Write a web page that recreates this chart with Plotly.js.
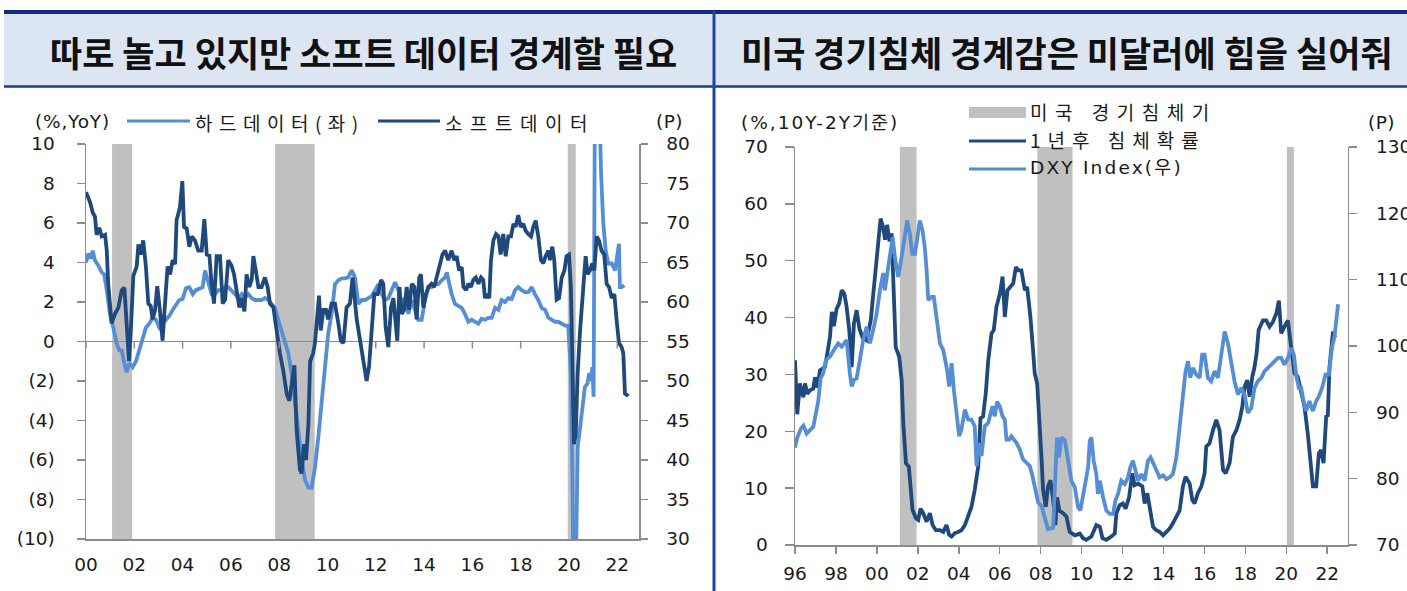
<!DOCTYPE html>
<html>
<head>
<meta charset="utf-8">
<script src="https://cdn.plot.ly/plotly-3.0.1.min.js"></script>
<style>
html,body{margin:0;padding:0;background:#ffffff;}
#chart{width:1407px;height:591px;}
</style>
</head>
<body>
<div id="chart"></div>
<script>
// ---------------- DATA ----------------
// Left chart: hard data (% YoY, left axis) and soft data (P, right axis)
const hardX = [
2000.00,2000.10,2000.19,2000.28,2000.37,2000.51,2000.65,2000.75,2000.86,2000.99,
2001.13,2001.27,2001.38,2001.48,2001.57,2001.68,2001.79,2001.93,
2002.07,2002.21,2002.35,2002.48,2002.62,2002.76,2002.90,
2003.04,2003.17,2003.31,2003.45,2003.59,2003.73,2003.86,
2004.00,2004.14,2004.28,2004.42,2004.55,2004.69,2004.83,2004.93,
2005.07,2005.20,2005.34,2005.48,2005.62,2005.76,2005.89,
2006.03,2006.17,2006.31,2006.45,2006.58,2006.72,2006.86,
2007.00,2007.14,2007.27,2007.41,2007.55,2007.69,2007.83,2007.96,
2008.10,2008.24,2008.38,2008.52,2008.65,2008.79,2008.93,
2009.07,2009.21,2009.34,2009.48,2009.62,2009.76,2009.90,
2010.03,2010.17,2010.31,2010.45,2010.59,2010.72,2010.86,
2011.00,2011.14,
2011.28,2011.42,2011.55,2011.69,2011.83,2011.97,
2012.11,2012.24,2012.38,2012.52,2012.66,2012.80,2012.93,
2013.07,2013.21,2013.35,2013.49,2013.62,2013.76,2013.90,
2014.04,2014.18,2014.31,2014.45,2014.59,2014.73,2014.87,2014.94,
2015.00,2015.14,2015.28,2015.42,2015.56,2015.69,2015.83,2015.97,
2016.11,2016.25,2016.38,2016.52,2016.66,2016.80,2016.94,
2017.08,2017.21,2017.35,2017.49,2017.63,2017.77,2017.90,
2018.04,2018.18,2018.32,2018.46,2018.59,2018.73,2018.87,
2019.01,2019.15,2019.28,2019.42,2019.56,2019.70,2019.84,2019.97,
2020.08,2020.14,2020.19,2020.28,2020.36,2020.46,2020.57,2020.66,2020.76,2020.84,2020.91,2020.97,
2021.02,2021.08,2021.22,2021.33,2021.42,2021.52,2021.63,2021.77,2021.91,
2022.02,2022.07,2022.11,2022.18,2022.29
];
const hardY = [
4.0,4.45,4.2,4.6,4.1,3.85,3.5,3.4,2.6,1.4,
0.7,-0.1,-0.45,-0.45,-1.0,-1.55,-1.1,-1.3,
-1.0,-0.4,0.2,0.7,0.9,1.2,1.1,
0.7,0.9,1.1,1.3,1.6,1.9,2.1,
2.15,2.7,2.75,2.4,2.6,2.7,2.75,3.6,
2.9,2.4,2.4,2.6,2.6,2.75,2.75,
2.6,2.4,2.2,2.4,2.2,2.4,2.2,
2.1,2.1,2.1,2.2,2.1,1.9,1.7,1.1,
0.55,0.05,-0.6,-1.65,-3.0,-4.7,-6.0,
-7.0,-7.4,-7.4,-6.4,-4.85,-3.0,-1.3,
0.4,1.4,2.9,3.1,3.2,3.2,3.25,
3.6,3.25,
1.9,2.1,2.1,2.2,2.3,2.6,
2.9,2.4,2.1,2.2,2.6,3.0,2.6,
1.9,2.2,1.4,2.1,1.6,1.1,1.1,
2.1,2.75,2.75,2.9,2.9,3.1,3.25,3.5,
3.1,2.4,1.9,1.8,1.7,1.4,1.0,1.1,
1.0,0.9,1.15,1.1,1.2,1.2,1.7,
1.6,2.1,2.0,2.2,2.15,2.6,2.75,
2.6,2.5,2.5,2.75,2.4,2.1,1.7,
1.6,1.2,1.1,1.0,1.0,0.9,0.8,0.8,
-1.6,-6.7,-13,-12,-5.35,-4.35,-3.3,-2.3,-2.15,-1.6,-2.0,-1.3,
-2.8,14,14,8.5,6.0,4.6,3.95,3.95,3.6,
4.6,4.95,2.75,2.75,2.85
];
const softX = [
2000.00,2000.17,2000.28,2000.37,2000.44,2000.55,2000.65,2000.79,2000.86,2000.92,
2001.06,2001.20,2001.34,2001.48,2001.59,2001.68,2001.78,2001.85,2001.96,
2002.10,2002.17,2002.26,2002.37,2002.48,2002.58,2002.68,2002.76,2002.86,2002.95,
2003.06,2003.17,2003.31,2003.38,2003.48,2003.59,2003.69,2003.75,2003.89,2003.99,
2004.06,2004.17,2004.28,2004.38,2004.51,2004.65,2004.79,2004.90,
2005.00,2005.11,2005.20,2005.30,2005.41,2005.55,2005.66,2005.76,2005.89,
2006.03,2006.13,2006.24,2006.35,2006.45,2006.56,2006.65,2006.76,2006.86,2006.93,
2007.04,2007.14,2007.27,2007.41,2007.52,2007.62,2007.76,2007.90,
2008.03,2008.17,2008.31,2008.42,2008.52,2008.63,2008.72,2008.86,2008.93,
2009.03,2009.11,2009.21,2009.28,2009.41,2009.48,2009.58,2009.65,2009.72,2009.83,2009.94,
2010.03,2010.17,2010.31,2010.45,2010.55,2010.66,2010.79,2010.93,2011.04,
2011.21,2011.35,2011.49,2011.62,2011.72,2011.83,2011.94,
2012.08,2012.22,2012.31,2012.41,2012.52,2012.63,2012.73,2012.80,2012.89,2012.98,
2013.07,2013.18,2013.28,2013.38,2013.49,2013.60,2013.69,2013.80,2013.87,2013.97,
2014.08,2014.18,2014.31,2014.42,2014.52,2014.66,2014.76,2014.87,
2015.00,2015.14,2015.25,2015.35,2015.45,2015.56,2015.63,2015.74,2015.83,2015.94,
2016.04,2016.14,2016.25,2016.36,2016.45,2016.52,2016.62,2016.70,2016.77,2016.87,2016.98,
2017.08,2017.17,2017.28,2017.38,2017.49,2017.60,2017.70,2017.79,2017.90,
2018.00,2018.11,2018.21,2018.32,2018.43,2018.52,2018.62,2018.73,2018.84,2018.94,
2019.03,2019.15,2019.21,2019.31,2019.39,2019.49,2019.59,2019.70,2019.81,2019.90,
2020.00,2020.08,2020.14,2020.21,2020.28,2020.36,2020.46,2020.55,2020.64,2020.69,2020.77,2020.87,2020.97,
2021.05,2021.15,2021.24,2021.35,2021.46,2021.56,2021.66,2021.77,2021.88,2021.97,
2022.07,2022.18,2022.25,2022.32,2022.46
];
const softY = [
73.9,72.6,71.3,70.8,68.5,69.4,68.3,68.5,66.5,62.3,
57.3,58.5,59.3,61.5,61.8,56.8,52.5,56.0,63.3,
64.5,67.3,66.0,67.8,64.5,59.8,59.5,57.8,59.0,62.0,
59.0,55.1,61.5,64.5,63.5,65.3,64.8,70.3,72.0,75.3,
69.5,69.3,67.0,68.3,67.8,66.5,66.5,70.5,
66.0,65.9,62.3,59.8,65.8,65.8,59.8,60.3,65.3,
64.6,63.5,61.0,59.3,60.5,58.8,63.5,61.9,62.8,65.8,
63.8,61.9,61.9,63.1,61.9,59.8,59.3,56.0,
53.5,51.3,48.4,47.5,50.0,52.0,43.8,38.8,38.3,
42.0,40.0,44.5,52.5,53.5,54.8,58.0,60.8,56.4,59.0,59.0,
57.8,59.8,59.8,57.3,55.1,54.8,59.3,59.8,63.1,
57.8,55.1,51.8,50.0,51.8,56.8,61.0,
61.0,62.8,62.3,56.8,54.3,59.3,60.5,58.5,55.1,61.9,
58.5,59.0,61.9,59.0,62.3,61.9,57.8,63.1,63.5,59.3,
61.0,61.9,62.3,61.9,63.1,64.4,66.0,66.5,
65.3,66.5,65.3,65.8,64.0,64.4,61.9,61.5,62.3,61.9,
62.8,63.1,62.3,63.1,62.8,60.5,61.0,60.5,65.3,67.8,68.6,
68.3,66.0,68.6,65.8,68.3,68.3,69.9,69.5,71.0,
69.5,69.9,69.0,68.6,68.3,69.5,70.3,68.3,65.3,64.9,
65.8,66.5,65.3,67.0,65.3,60.3,60.5,63.1,64.0,65.8,
66.0,61.9,51.0,42.0,43.3,51.0,56.4,60.3,62.8,65.8,63.5,64.0,64.9,
64.0,68.3,67.8,66.5,66.0,62.3,61.9,60.5,61.0,57.8,
54.8,54.3,53.5,48.4,48.1
];

// Right chart: 1-year-ahead recession probability (left axis) and DXY (right axis)
const probX = [
1996.00,1996.11,1996.24,1996.41,1996.49,1996.60,1996.73,1996.89,1996.98,
1997.09,1997.22,1997.46,1997.58,1997.71,1997.80,1997.90,
1998.03,1998.16,1998.28,1998.41,1998.52,1998.65,1998.77,1998.88,
1999.01,1999.15,1999.30,1999.50,1999.70,1999.82,1999.95,
2000.07,2000.18,2000.30,2000.40,2000.50,2000.62,2000.72,2000.80,2000.92,
2001.09,2001.21,2001.29,2001.42,2001.56,2001.66,2001.74,2001.91,
2002.02,2002.13,2002.26,2002.43,2002.59,2002.72,2002.88,
2003.08,2003.24,2003.40,2003.53,2003.65,2003.81,2003.97,
2004.13,2004.30,2004.46,2004.62,2004.78,2004.95,
2005.06,2005.19,2005.32,2005.44,2005.60,2005.71,2005.84,
2006.01,2006.14,2006.25,2006.38,2006.54,2006.66,2006.79,2006.90,
2007.06,2007.23,2007.34,2007.50,2007.63,2007.71,2007.83,2007.96,
2008.04,2008.12,2008.25,2008.36,2008.48,2008.61,2008.72,2008.80,2008.92,
2009.10,2009.26,2009.42,2009.67,2009.91,
2010.07,2010.23,2010.48,2010.72,2010.89,
2011.02,2011.21,2011.45,2011.62,2011.70,2011.86,
2012.02,2012.15,2012.32,2012.48,2012.59,2012.76,2012.97,
2013.08,2013.21,2013.33,2013.49,2013.65,2013.81,2013.98,
2014.14,2014.30,2014.46,2014.63,2014.79,2014.95,
2015.08,2015.28,2015.41,2015.52,2015.68,2015.85,
2016.01,2016.09,2016.25,2016.42,2016.58,2016.74,2016.91,
2017.04,2017.23,2017.39,2017.56,2017.72,2017.85,2017.96,
2018.09,2018.21,2018.34,2018.45,2018.55,2018.65,2018.86,
2019.02,2019.18,2019.34,2019.51,2019.64,2019.75,2019.91,
2020.08,2020.19,2020.24,2020.40,2020.56,2020.73,2020.89,
2021.05,2021.22,2021.30,2021.46,2021.59,2021.70,2021.82,2021.95,
2022.03,2022.11,2022.19,2022.28,2022.39
];
const probY = [
32.5,23.0,28.4,26.0,28.4,26.6,27.2,27.5,29.5,
27.7,30.7,31.3,33.7,36.6,41.0,38.5,
41.5,42.5,44.8,44.2,41.9,37.8,31.3,39.0,
41.3,38.0,36.5,36.0,39.5,44.0,48.0,
53.0,57.4,56.0,53.7,56.3,53.4,54.8,46.6,34.8,
33.1,29.0,21.4,14.4,13.8,10.3,6.2,4.7,
4.4,6.4,5.6,4.1,5.6,3.5,2.6,
2.6,2.3,3.5,1.8,1.5,2.1,2.3,
2.6,3.5,5.0,6.7,9.7,13.8,
22.3,22.6,26.7,32.5,37.2,37.8,41.9,
44.2,47.2,40.1,44.8,45.4,46.0,48.9,48.3,
48.3,44.8,45.4,40.1,34.2,30.2,28.4,21.4,
15.5,9.7,6.7,10.3,11.4,8.0,3.5,8.4,6.0,
5.6,5.0,2.3,1.7,2.0,
1.2,0.9,1.5,3.5,3.2,
1.2,0.9,1.5,2.0,5.6,7.0,
7.3,6.4,8.4,12.6,10.5,10.8,10.3,
7.3,9.1,6.1,3.2,2.6,2.3,1.7,
2.3,2.9,3.8,5.0,6.1,10.3,
12.0,10.8,7.9,7.3,9.1,10.3,
12.6,17.3,17.9,20.2,22.0,20.2,13.2,
12.6,14.4,19.0,20.2,22.0,24.3,27.8,
29.0,26.1,29.6,31.3,33.7,37.8,39.5,
39.5,38.4,39.2,40.7,43.0,37.2,38.4,
39.5,36.1,34.9,30.2,29.6,27.2,24.3,
19.6,12.6,10.3,10.3,16.1,16.7,14.4,22.6,
22.8,31.3,34.9,37.5,36.5
];
const dxyX = [
1996.00,1996.11,1996.28,1996.41,1996.57,1996.73,1996.89,
1997.02,1997.14,1997.25,1997.38,1997.51,1997.71,1997.90,
1998.11,1998.28,1998.52,1998.68,1998.77,1998.88,
1999.01,1999.17,1999.33,1999.50,1999.66,1999.82,1999.99,
2000.15,2000.31,2000.39,2000.64,2000.77,2000.88,
2001.04,2001.21,2001.37,2001.48,2001.61,2001.73,2001.86,2001.97,
2002.10,2002.23,2002.34,2002.43,2002.51,2002.67,2002.78,2002.91,
2003.08,2003.24,2003.43,2003.53,2003.65,2003.76,2003.89,
2004.02,2004.13,2004.30,2004.46,2004.62,2004.78,2004.87,
2005.00,2005.11,2005.27,2005.44,2005.52,2005.65,2005.76,2005.87,
2006.00,2006.14,2006.25,2006.33,2006.46,2006.57,2006.69,2006.82,2006.98,
2007.14,2007.31,2007.47,2007.60,2007.71,2007.88,
2008.04,2008.20,2008.36,2008.61,2008.72,2008.80,2008.90,
2009.01,2009.18,2009.34,2009.50,2009.67,2009.83,2009.94,
2010.07,2010.23,2010.32,2010.40,2010.48,2010.59,2010.72,2010.80,2010.89,
2011.05,2011.21,2011.37,2011.54,2011.65,2011.78,2011.94,
2012.11,2012.27,2012.38,2012.51,2012.64,2012.76,2012.92,
2013.08,2013.24,2013.37,2013.52,2013.65,2013.81,2013.98,
2014.14,2014.30,2014.46,2014.63,2014.79,2014.95,
2015.08,2015.20,2015.31,2015.44,2015.60,2015.77,2015.89,
2016.01,2016.17,2016.33,2016.50,2016.66,2016.82,2016.99,
2017.15,2017.31,2017.47,2017.64,2017.80,2017.96,
2018.12,2018.29,2018.45,2018.61,2018.78,2018.94,
2019.10,2019.26,2019.43,2019.59,2019.75,2019.91,
2020.08,2020.24,2020.37,2020.48,2020.61,2020.73,2020.84,2020.97,
2021.13,2021.30,2021.46,2021.59,2021.75,2021.92,
2022.08,2022.24,2022.35,2022.44,2022.53
];
const dxyY = [
84.7,86.2,87.5,88.0,86.8,87.3,87.8,
89.8,91.8,95.1,95.9,97.9,98.4,99.4,
100.4,99.9,100.9,95.9,93.9,94.9,
95.1,97.9,100.9,102.9,100.4,102.4,104.9,
108.4,111.0,108.4,113.4,116.4,113.4,
110.4,113.4,116.9,118.9,116.9,113.9,113.9,116.4,
118.9,117.4,114.9,111.4,106.9,107.4,107.4,104.4,
100.4,99.4,96.4,93.9,97.4,93.4,90.4,
86.4,87.4,90.4,88.9,88.9,87.9,81.9,
85.4,83.4,87.9,88.4,89.4,90.9,89.4,91.6,
90.9,89.4,88.9,85.9,85.9,86.4,85.9,85.4,84.4,
82.9,82.4,81.9,80.4,78.9,76.4,
75.9,73.9,72.4,72.6,80.0,86.2,83.2,
86.2,85.8,82.7,79.7,78.7,75.7,75.2,
77.7,80.2,81.7,85.7,86.2,82.7,80.7,77.7,79.7,
77.2,75.2,74.7,74.7,76.7,77.7,79.7,
79.2,80.2,81.7,82.7,81.2,79.7,80.7,
79.7,82.7,83.2,82.2,81.2,80.2,80.5,
79.9,80.2,80.7,83.2,87.7,91.7,
96.2,97.7,95.2,96.7,95.7,95.2,98.7,
98.7,95.2,94.7,96.2,95.2,98.2,102.2,
100.4,97.7,94.7,92.7,93.7,92.7,
89.9,90.7,93.7,94.7,95.2,96.2,
96.7,97.2,97.7,98.2,98.2,97.2,
98.2,99.7,98.7,95.7,93.7,93.7,91.7,90.2,
91.7,90.2,91.7,92.4,93.7,95.7,
95.7,99.9,101.3,103.8,106.3
];

// Recession periods (start, end)
const recessionStartLeft = [2001.08, 2007.83, 2019.95];
const recessionEndLeft   = [2001.91, 2009.47, 2020.28];
const recessionStartRight = [2001.12, 2007.84, 2020.03];
const recessionEndRight   = [2001.94, 2009.56, 2020.37];

// Ticks
const leftXTicks  = [2000,2002,2004,2006,2008,2010,2012,2014,2016,2018,2020,2022];
const leftXLabels = ["00","02","04","06","08","10","12","14","16","18","20","22"];
const leftYTicks  = [10,8,6,4,2,0,-2,-4,-6,-8,-10];
const leftYLabels = ["10","8","6","4","2","0","(2)","(4)","(6)","(8)","(10)"];
const leftY2Ticks = [30,35,40,45,50,55,60,65,70,75,80];
const rightXTicks  = [1996,1998,2000,2002,2004,2006,2008,2010,2012,2014,2016,2018,2020,2022];
const rightXLabels = ["96","98","00","02","04","06","08","10","12","14","16","18","20","22"];
const rightYTicks  = [0,10,20,30,40,50,60,70];
const rightY2Ticks = [70,80,90,100,110,120,130];

// Texts
const titles = ["따로 놀고 있지만 소프트 데이터 경계할 필요", "미국 경기침체 경계감은 미달러에 힘을 실어줘"];
const leftNames = ["하드데이터(좌)", "소프트데이터"];
const rightNames = ["미국 경기침체기", "1년후 침체확률", "DXY Index(우)"];
const unitLabels = ["(%,YoY)", "(P)", "(%,10Y-2Y기준)", "(P)"];

// ---------------- STYLE ----------------
const W = 1407, H = 591;
const px = v => v / W;
const py = v => 1 - v / H;
const LIGHT = '#558ed5', DARK = '#1f497d', GREY = '#c0c0c0', AXIS = '#8c8c8c';
const NUMFONT = 'DejaVu Sans, Verdana, Noto Sans CJK KR, sans-serif';
const KRFONT = 'Noto Sans CJK KR, sans-serif';
const sp = (t, ls) => '<span style="letter-spacing:' + ls + 'px">' + t + '</span>';
const LW = 3.8;

const traces = [
  {x: hardX, y: hardY, xaxis: 'x', yaxis: 'y', type: 'scatter', mode: 'lines', name: leftNames[0],
   line: {color: LIGHT, width: LW}},
  {x: softX, y: softY, xaxis: 'x', yaxis: 'y2', type: 'scatter', mode: 'lines', name: leftNames[1],
   line: {color: DARK, width: LW}},
  {x: probX, y: probY, xaxis: 'x2', yaxis: 'y3', type: 'scatter', mode: 'lines', name: rightNames[1],
   line: {color: DARK, width: LW}},
  {x: dxyX, y: dxyY, xaxis: 'x2', yaxis: 'y4', type: 'scatter', mode: 'lines', name: rightNames[2],
   line: {color: LIGHT, width: LW}}
];

const shapes = [];
// header band
shapes.push({type:'rect', xref:'paper', yref:'paper', x0:px(4), x1:1, y0:py(86), y1:py(13), fillcolor:'#dce6f2', line:{width:0}, layer:'below'});
shapes.push({type:'line', xref:'paper', yref:'paper', x0:px(4), x1:1, y0:py(12), y1:py(12), line:{color:'#0f2a85', width:4}});
shapes.push({type:'line', xref:'paper', yref:'paper', x0:px(4), x1:1, y0:py(86.5), y1:py(86.5), line:{color:'#1b3b8e', width:2.5}});
shapes.push({type:'line', xref:'paper', yref:'paper', x0:px(714), x1:px(714), y0:0, y1:py(11), line:{color:'#1f44aa', width:3}});

// recession bands
recessionStartLeft.forEach((s, i) => shapes.push({type:'rect', xref:'x', yref:'y domain', x0:s, x1:recessionEndLeft[i], y0:0, y1:1, fillcolor:GREY, line:{width:0}, layer:'below'}));
recessionStartRight.forEach((s, i) => shapes.push({type:'rect', xref:'x2', yref:'y3 domain', x0:s, x1:recessionEndRight[i], y0:0, y1:1, fillcolor:GREY, line:{width:0}, layer:'below'}));

// tick marks on the zero line of the left chart
leftXTicks.forEach(t => shapes.push({type:'line', xref:'x', yref:'y', ysizemode:'pixel', yanchor:0, x0:t, x1:t, y0:0, y1:-7, line:{color:AXIS, width:1.5}}));

// legend samples
shapes.push({type:'line', xref:'paper', yref:'paper', x0:px(127), x1:px(190), y0:py(121), y1:py(121), line:{color:LIGHT, width:3.2}});
shapes.push({type:'line', xref:'paper', yref:'paper', x0:px(378), x1:px(440), y0:py(121), y1:py(121), line:{color:DARK, width:3.2}});
shapes.push({type:'rect', xref:'paper', yref:'paper', x0:px(969), x1:px(1026), y0:py(118), y1:py(107), fillcolor:GREY, line:{width:0}});
shapes.push({type:'line', xref:'paper', yref:'paper', x0:px(969), x1:px(1026), y0:py(141), y1:py(141), line:{color:DARK, width:3.2}});
shapes.push({type:'line', xref:'paper', yref:'paper', x0:px(969), x1:px(1026), y0:py(169), y1:py(169), line:{color:LIGHT, width:3.2}});

const ann = (x, y, text, font, xanchor) => ({xref:'paper', yref:'paper', x:x, y:y, text:text, showarrow:false,
  xanchor: xanchor || 'left', yanchor:'middle', align: (xanchor === 'center') ? 'center' : 'left', font: font});
const numF = {family: NUMFONT, size: 18.5, color: '#1a1a1a'};
const krF = {family: KRFONT, size: 19, color: '#1a1a1a'};
const titleF = {family: KRFONT, size: 35, color: '#111111', weight: 700};

const annotations = [
  ann(px(363), py(51), titles[0], titleF, 'center'),
  ann(px(1067), py(51), titles[1], titleF, 'center'),
  ann(px(33), py(121), sp(unitLabels[0], 0.8), numF),
  ann(px(654), py(121), sp(unitLabels[1], 0.5), numF),
  ann(px(193), py(122), sp(leftNames[0], 6.5), krF),
  ann(px(443), py(122), sp(leftNames[1], 7.5), krF),
  ann(px(739), py(122), sp(unitLabels[2], 2), numF),
  ann(px(1366), py(122), sp(unitLabels[3], 0.5), numF),
  ann(px(1028), py(112), sp(rightNames[0], 7.5), krF),
  ann(px(1028), py(140), sp(rightNames[1], 7), krF),
  ann(px(1028), py(168), sp(rightNames[2], 2.2), numF)
];

const tickF = {family: NUMFONT, size: 18.5, color: '#1a1a1a'};
const layout = {
  width: W, height: H,
  margin: {l:0, r:0, t:0, b:0, pad:0},
  paper_bgcolor: '#ffffff', plot_bgcolor: 'rgba(0,0,0,0)',
  showlegend: false,
  xaxis: {domain:[px(86), px(639)], range:[2000, 2022.9], anchor:'y',
    tickmode:'array', tickvals:leftXTicks, ticktext:leftXLabels, ticks:'', tickfont:tickF,
    showline:true, linecolor:AXIS, linewidth:1.5, showgrid:false, zeroline:false, ticklabelstandoff:8},
  yaxis: {domain:[py(539), py(144)], range:[-10, 10], anchor:'x',
    tickmode:'array', tickvals:leftYTicks, ticktext:leftYLabels, ticks:'outside', ticklen:8, tickwidth:1.5, tickcolor:AXIS,
    tickfont:tickF, showline:true, linecolor:AXIS, linewidth:1.5, showgrid:false,
    zeroline:true, zerolinecolor:AXIS, zerolinewidth:1.5, ticklabelstandoff:18},
  yaxis2: {overlaying:'y', side:'right', anchor:'x', range:[30, 80],
    tickmode:'array', tickvals:leftY2Ticks, ticks:'outside', ticklen:7, tickwidth:1.5, tickcolor:AXIS,
    tickfont:tickF, showline:true, linecolor:AXIS, linewidth:1.5, showgrid:false, zeroline:false, ticklabelstandoff:15},
  xaxis2: {domain:[px(795), px(1347.7)], range:[1996, 2023], anchor:'y3',
    tickmode:'array', tickvals:rightXTicks, ticktext:rightXLabels, ticks:'outside', ticklen:7, tickwidth:1.5, tickcolor:AXIS,
    tickfont:tickF, showline:true, linecolor:AXIS, linewidth:1.5, showgrid:false, zeroline:false, ticklabelstandoff:4},
  yaxis3: {domain:[py(545), py(147)], range:[0, 70], anchor:'x2',
    tickmode:'array', tickvals:rightYTicks, ticks:'outside', ticklen:9, tickwidth:1.5, tickcolor:AXIS,
    tickfont:tickF, showline:true, linecolor:AXIS, linewidth:1.5, showgrid:false, zeroline:false, ticklabelstandoff:13},
  yaxis4: {overlaying:'y3', side:'right', anchor:'x2', range:[70, 130],
    tickmode:'array', tickvals:rightY2Ticks, ticks:'outside', ticklen:8, tickwidth:1.5, tickcolor:AXIS,
    tickfont:tickF, showline:true, linecolor:AXIS, linewidth:1.5, showgrid:false, zeroline:false, ticklabelstandoff:15},
  shapes: shapes,
  annotations: annotations
};

Plotly.newPlot('chart', traces, layout, {staticPlot:true, displayModeBar:false});
</script>
</body>
</html>
